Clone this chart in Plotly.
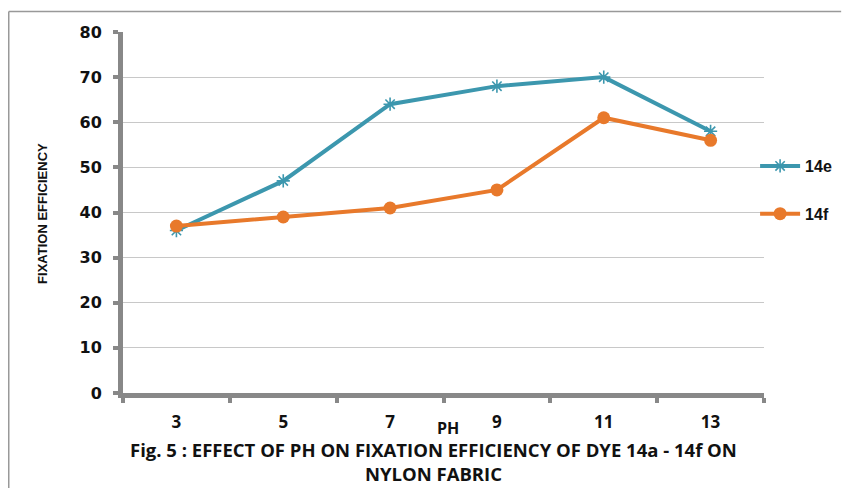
import plotly.graph_objects as go

ph = ["3", "5", "7", "9", "11", "13"]
s14e = [36, 47, 64, 68, 70, 58]
s14f = [37, 39, 41, 45, 61, 56]
yticks = [0, 10, 20, 30, 40, 50, 60, 70, 80]

teal = "#3C97AE"
orange = "#E8792B"
font_main = "Liberation Sans"

fig = go.Figure()
fig.add_trace(go.Scatter(
    x=ph, y=s14e, name="14e", mode="lines+markers",
    line=dict(color=teal, width=4),
    marker=dict(symbol="asterisk-open", size=11, color=teal, line=dict(color=teal, width=1.6)),
    legendgroup="a",
))
fig.add_trace(go.Scatter(
    x=ph, y=s14f, name="14f", mode="lines+markers",
    line=dict(color=orange, width=4),
    marker=dict(symbol="circle", size=13, color=orange),
    legendgroup="b",
))

W, H = 849, 488
L, R, T, B = 123, 78, 32, 95
PW = W - L - R
PH = H - T - B

fig.update_layout(
    width=W, height=H,
    margin=dict(l=L, r=R, t=T, b=B),
    paper_bgcolor="white", plot_bgcolor="white",
    showlegend=True,
    legend=dict(
        x=(762 - L) / PW, xanchor="left",
        y=(393 - 149) / PH, yanchor="top",
        font=dict(family=font_main, size=16, color="#111", weight="bold"),
        tracegroupgap=24, itemwidth=40,
        bgcolor="rgba(0,0,0,0)",
    ),
    xaxis=dict(
        type="category", range=[-0.5, 5.5],
        tickson="boundaries", ticks="outside", ticklen=5, tickwidth=4, tickcolor="#888",
        showline=True, linecolor="#888", linewidth=5,
        showgrid=False, zeroline=False,
        tickfont=dict(family="Open Sans", size=17, color="#111", weight="bold"),
        ticklabelstandoff=10,
    ),
    yaxis=dict(
        range=[0, 80], tickvals=yticks, ticks="outside", ticklen=5, tickwidth=4, tickcolor="#888",
        showline=True, linecolor="#888", linewidth=5,
        showgrid=True, gridcolor="#C8C8C8", gridwidth=1.2, zeroline=False,
        tickfont=dict(family="DejaVu Sans", size=16, color="#111", weight="bold"),
        ticklabelstandoff=8,
    ),
    shapes=[
        dict(type="line", xref="paper", yref="paper",
             x0=-(L - 7.5) / PW, x1=-(L - 7.5) / PW,
             y0=(H - B - 11.5) / PH, y1=-B / PH,
             line=dict(color="#999", width=1.5)),
        dict(type="line", xref="paper", yref="paper",
             x0=-(L - 7.5) / PW, x1=(W - L) / PW,
             y0=(H - B - 11.5) / PH, y1=(H - B - 11.5) / PH,
             line=dict(color="#999", width=1.5)),
    ],
    annotations=[
        dict(text="FIXATION EFFICIENCY", textangle=-90, xref="paper", yref="paper",
             x=-(L - 41) / PW, y=(393 - 213) / PH, xanchor="center", yanchor="middle",
             showarrow=False, font=dict(family=font_main, size=13, color="#111", weight="bold")),
        dict(text="PH", xref="paper", yref="paper",
             x=(452 - L) / PW, y=-(428 - 393) / PH, xanchor="center", yanchor="middle",
             showarrow=False, font=dict(family="Open Sans", size=16, color="#111", weight="bold")),
        dict(text="Fig. 5 : EFFECT OF PH ON FIXATION EFFICIENCY OF DYE 14a - 14f ON<br>NYLON FABRIC",
             xref="paper", yref="paper",
             x=(437 - L) / PW, y=-(461 - 393) / PH, xanchor="center", yanchor="middle",
             showarrow=False, align="center",
             font=dict(family="Open Sans", size=18.5, color="#111", weight="bold")),
    ],
)

fig.write_html("out.html")
